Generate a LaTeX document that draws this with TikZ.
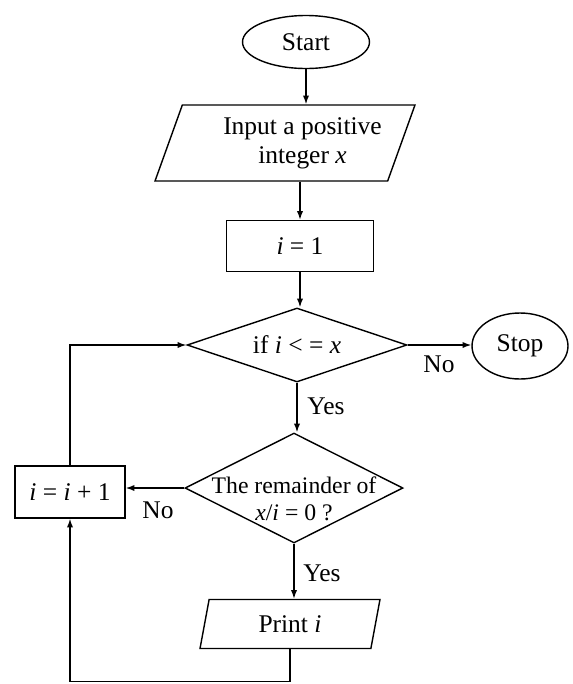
\documentclass[tikz,border=0pt]{standalone}
\usepackage{fontspec}
\setmainfont{Liberation Serif}
\usetikzlibrary{
    arrows.meta,
    positioning,
    shapes.geometric
}
\newcommand{\flowfont}{\fontsize{14.5}{16.5}\selectfont}
\tikzset{
    termnode/.style = {ellipse, draw=black, line width=0.8pt, inner sep=0pt,
                       align=center},
    ionode/.style   = {trapezium, draw=black, line width=0.8pt, inner sep=0pt,
                       trapezium left angle=62, trapezium right angle=118,
                       trapezium stretches body=true, align=center},
    procnode/.style = {rectangle, draw=black, line width=0.8pt, inner sep=0pt,
                       align=center},
    decision/.style = {diamond, draw=black, line width=0.8pt, inner sep=0pt,
                       aspect=3, align=center}
}

\begin{document}
\begin{tikzpicture}[
    x = 0.02cm, y = -0.02cm,
    every node/.append style = {font=\flowfont},
    flowArr/.style = {-{Latex[length=5pt, width=3.6pt]}, line width=0.8pt},
    branch/.style  = {inner sep=1pt}
]
\useasboundingbox (0,0) rectangle (573,684);

% ===== Main column =====
\node[termnode, minimum width=2.54cm, minimum height=1.06cm] (start)
   at (306, 42) {Start};
\node[ionode, minimum width=5.2cm, minimum height=1.52cm] (input)
   at (285, 143) {\hspace*{0.7cm}Input a positive \\ \hspace*{0.7cm}integer \textit{x}};
\node[procnode, minimum width=2.94cm, minimum height=1.02cm] (init)
   at (300, 246) {\textit{i} = 1};
\node[decision, minimum width=4.4cm, minimum height=1.48cm] (cond)
   at (297, 345) {if \textit{i} < = \textit{x}};
\node[decision, minimum width=4.36cm, minimum height=2.2cm,
      label={[align=center, yshift=-0.22cm,
              font=\fontsize{13.5}{15.5}\selectfont]center:The remainder of \\
             \textit{x}/\textit{i} = 0 ?}] (rem)
   at (294, 488) {};
\node[ionode, minimum width=3.6cm, minimum height=0.98cm] (print)
   at (290, 624) {Print \textit{i}};

% ===== Side nodes =====
\node[termnode, minimum width=1.92cm, minimum height=1.32cm] (stop)
   at (520, 346) {Stop};
\node[procnode, minimum width=2.2cm, minimum height=1.04cm] (plus)
   at (70, 492) {\textit{i} = \textit{i} + 1};

% ===== Connectors =====
\draw[flowArr] (start.south) -- (start.south |- input.north);
\draw[flowArr] (input.south -| init.north) -- (init.north);
\draw[flowArr] (init.south) -- (init.south |- cond.north);
\draw[flowArr] (cond.south) -- (cond.south |- rem.north);
\draw[flowArr] (rem.south) -- (rem.south |- print.north);
\draw[flowArr] (cond.east) -- (cond.east -| stop.west);
\draw[flowArr] (rem.west) -- (rem.west -| plus.east);
\draw[flowArr] (print.south) -- ++(0, 32) -| (plus.south);
\draw[flowArr] (plus.north) |- (cond.west);

% ===== Branch labels =====
\node[branch] (condNo)  at (439, 364) {No};
\node[branch] (condYes) at (326, 406) {Yes};
\node[branch] (remNo)   at (158, 510) {No};
\node[branch] (remYes)  at (322, 573) {Yes};

\end{tikzpicture}
\end{document}
